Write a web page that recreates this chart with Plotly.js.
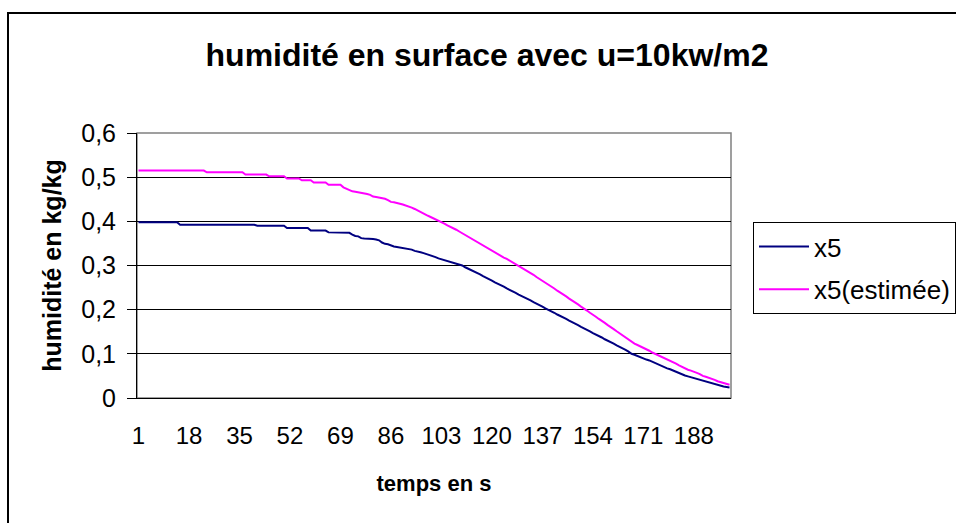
<!DOCTYPE html>
<html>
<head>
<meta charset="utf-8">
<script src="https://cdn.plot.ly/plotly-3.0.1.min.js"></script>
<style>html,body{margin:0;padding:0;background:#fff;}#chart{width:956px;height:523px;}</style>
</head>
<body>
<div id="chart"></div>
<script>
const chartTitle = "humidité en surface avec u=10kw/m2";
const xTitle = "temps en s";
const yTitle = "humidité en kg/kg";
const seriesNames = ["x5", "x5(estimée)"];
const seriesColors = ["#000080", "#FF00FF"];

const xTickVals = [1, 18, 35, 52, 69, 86, 103, 120, 137, 154, 171, 188];
const yTickVals = [0, 0.1, 0.2, 0.3, 0.4, 0.5, 0.6];
const yTickText = ["0", "0,1", "0,2", "0,3", "0,4", "0,5", "0,6"];

// x5 (measured), samples 1..200
const x5 = [
0.398,0.398,0.398,0.398,0.398,0.398,0.398,0.398,0.398,0.398,
0.398,0.398,0.398,0.398,0.392,0.392,0.392,0.392,0.392,0.392,
0.392,0.392,0.392,0.392,0.392,0.392,0.392,0.392,0.392,0.392,
0.392,0.392,0.392,0.392,0.392,0.392,0.392,0.392,0.392,0.392,
0.390,0.390,0.390,0.390,0.390,0.390,0.390,0.390,0.390,0.390,
0.385,0.385,0.385,0.385,0.385,0.385,0.385,0.385,0.379,0.379,
0.379,0.379,0.379,0.379,0.375,0.375,0.375,0.375,0.375,0.375,
0.375,0.374,0.370,0.367,0.366,0.362,0.361,0.361,0.360,0.360,
0.359,0.357,0.352,0.349,0.348,0.345,0.343,0.342,0.341,0.340,
0.339,0.337,0.336,0.333,0.332,0.330,0.328,0.326,0.323,0.321,
0.319,0.316,0.314,0.312,0.310,0.308,0.306,0.304,0.302,0.300,
0.296,0.293,0.290,0.287,0.283,0.280,0.276,0.273,0.269,0.266,
0.262,0.259,0.255,0.252,0.248,0.245,0.241,0.238,0.234,0.231,
0.228,0.224,0.221,0.217,0.214,0.210,0.207,0.203,0.200,0.196,
0.193,0.189,0.186,0.182,0.179,0.175,0.172,0.168,0.165,0.161,
0.158,0.154,0.151,0.147,0.144,0.140,0.137,0.133,0.130,0.126,
0.123,0.119,0.116,0.112,0.109,0.105,0.100,0.098,0.095,0.093,
0.090,0.087,0.085,0.082,0.078,0.075,0.073,0.070,0.067,0.065,
0.062,0.059,0.057,0.054,0.051,0.049,0.047,0.045,0.043,0.041,
0.040,0.037,0.035,0.033,0.031,0.029,0.028,0.026,0.025,0.024
];

// x5 (estimée), samples 1..200
const x5est = [
0.515,0.515,0.515,0.515,0.515,0.515,0.515,0.515,0.515,0.515,
0.515,0.515,0.515,0.515,0.515,0.515,0.515,0.515,0.515,0.515,
0.515,0.515,0.515,0.511,0.511,0.511,0.511,0.511,0.511,0.511,
0.511,0.511,0.511,0.511,0.511,0.511,0.506,0.506,0.506,0.506,
0.506,0.506,0.506,0.506,0.502,0.502,0.502,0.502,0.502,0.502,
0.497,0.497,0.497,0.497,0.497,0.493,0.493,0.493,0.493,0.488,
0.488,0.488,0.488,0.488,0.483,0.483,0.483,0.483,0.483,0.477,
0.474,0.470,0.468,0.467,0.466,0.465,0.464,0.462,0.460,0.456,
0.455,0.454,0.453,0.451,0.448,0.444,0.443,0.442,0.440,0.438,
0.436,0.434,0.431,0.428,0.424,0.420,0.417,0.414,0.411,0.408,
0.405,0.401,0.398,0.395,0.391,0.388,0.384,0.381,0.377,0.373,
0.369,0.365,0.361,0.357,0.353,0.349,0.345,0.341,0.338,0.334,
0.330,0.326,0.322,0.318,0.315,0.311,0.307,0.303,0.300,0.296,
0.292,0.288,0.283,0.279,0.274,0.270,0.266,0.261,0.257,0.252,
0.248,0.243,0.239,0.234,0.230,0.225,0.221,0.216,0.212,0.207,
0.203,0.198,0.193,0.189,0.184,0.179,0.175,0.170,0.165,0.161,
0.156,0.151,0.146,0.141,0.136,0.131,0.127,0.123,0.120,0.117,
0.113,0.110,0.107,0.103,0.100,0.097,0.094,0.091,0.088,0.085,
0.081,0.078,0.074,0.070,0.067,0.064,0.062,0.060,0.057,0.054,
0.050,0.048,0.046,0.044,0.041,0.038,0.036,0.034,0.032,0.030
];

// category index (time step 1..N)
const timeSteps = x5.map((_, i) => i + 1);

const FONT = "Liberation Sans, Arial, sans-serif";

const traces = [
  {x: timeSteps, y: x5, name: seriesNames[0], type: "scatter", mode: "lines",
   line: {color: seriesColors[0], width: 2}, legendgroup: "a"},
  {x: timeSteps, y: x5est, name: seriesNames[1], type: "scatter", mode: "lines",
   line: {color: seriesColors[1], width: 2}, legendgroup: "b"}
];

const L = 137, R = 731, T = 133, B = 398, W = 956, H = 523;
const pw = R - L, ph = B - T;

const layout = {
  width: W, height: H,
  margin: {l: L, r: W - R, t: T, b: H - B, pad: 0},
  paper_bgcolor: "#ffffff",
  plot_bgcolor: "#ffffff",
  font: {family: FONT, color: "#000", size: 24},
  showlegend: true,
  title: {text: chartTitle, font: {family: FONT, size: 32, color: "#000", weight: "bold"},
          x: 487 / W, xanchor: "center", xref: "container", yref: "container", y: 1 - 55 / H, yanchor: "middle"},
  xaxis: {
    range: [0.5, 200.5], tickmode: "array", tickvals: xTickVals,
    ticktext: xTickVals.map(String),
    showgrid: false, zeroline: false,
    showline: true, linecolor: "#000", linewidth: 1,
    ticks: "outside", ticklen: 16, tickcolor: "rgba(0,0,0,0)",
    tickfont: {family: FONT, size: 24, color: "#000"},
    title: {text: xTitle, font: {family: FONT, size: 22, color: "#000", weight: "bold"}, standoff: 27},
    fixedrange: true
  },
  yaxis: {
    range: [0, 0.6], tickmode: "array", tickvals: yTickVals, ticktext: yTickText,
    showgrid: true, gridcolor: "#000", gridwidth: 1,
    zeroline: false, showline: true, linecolor: "#000", linewidth: 1,
    ticks: "outside", ticklen: 9, tickcolor: "#000", ticklabelstandoff: 6,
    tickfont: {family: FONT, size: 25, color: "#000"},
    title: {text: yTitle, font: {family: FONT, size: 25, color: "#000", weight: "bold"}, standoff: 12},
    fixedrange: true
  },
  legend: {
    xref: "container", yref: "container",
    x: 753 / W, y: 1 - 222 / H, xanchor: "left", yanchor: "top",
    bordercolor: "#000", borderwidth: 1, bgcolor: "#fff",
    font: {family: FONT, size: 26, color: "#000"},
    traceorder: "grouped", tracegroupgap: 6, itemwidth: 50
  },
  shapes: [
    {type: "rect", xref: "paper", yref: "paper", x0: 0, x1: 1, y0: 0, y1: 1,
     line: {color: "#808080", width: 1.5}, layer: "below"},
    {type: "rect", xref: "paper", yref: "paper",
     x0: (8 - L) / pw, x1: (W + 20 - L) / pw, y0: (B - (H + 20)) / ph, y1: (B - 13) / ph,
     line: {color: "#000", width: 2}, fillcolor: "rgba(0,0,0,0)", layer: "above"}
  ]
};

Plotly.newPlot("chart", traces, layout, {displayModeBar: false, staticPlot: true});
</script>
</body>
</html>
